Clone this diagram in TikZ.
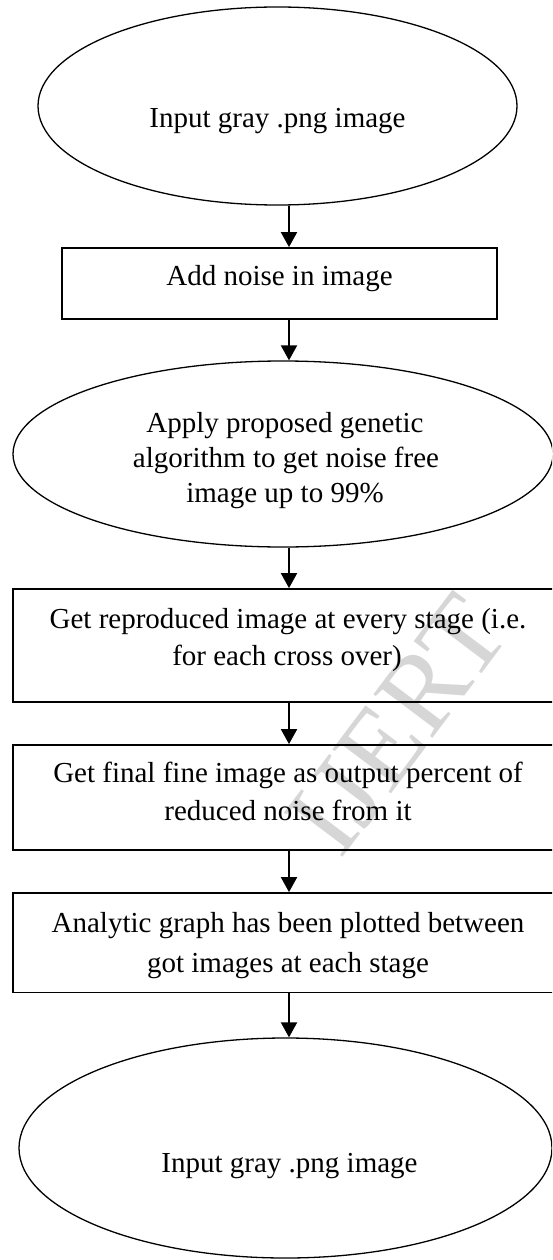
\documentclass[tikz,border=0pt]{standalone}
\usepackage{fontspec}
\setmainfont{Liberation Serif}
\usetikzlibrary{shapes.geometric,arrows.meta}
\begin{document}
\begin{tikzpicture}[x=1pt,y=-1pt,
  ell/.style={draw, ellipse, line width=1.3pt, inner sep=0pt},
  box/.style={draw, rectangle, line width=1.8pt, inner sep=0pt},
  txt/.style={anchor=base, inner sep=0pt, font=\fontsize{29}{36}\selectfont},
  arr/.style={line width=2pt, -{Triangle[width=16pt,length=15pt]}},
  wmark/.style={text=black!16, inner sep=0pt, font=\fontsize{112}{112}\selectfont}]
\useasboundingbox (0,0) rectangle (552,1260);
\clip (0,0) rectangle (552,1260);
\fill[white] (0,0) rectangle (552,1260);
% watermark
\node[wmark, rotate=53] (wm) at (398,725) {IJERT};
% shapes
\node[ell, minimum width=479pt, minimum height=198pt] (e1) at (277.5,106) {};
\node[box, minimum width=435pt, minimum height=71pt] (b1) at (279.5,283.5) {};
\node[ell, minimum width=540pt, minimum height=186pt] (e2) at (283,454) {};
\node[box, minimum width=550pt, minimum height=113pt] (b2) at (288,645.5) {};
\node[box, minimum width=550pt, minimum height=105pt] (b3) at (288,797.5) {};
\node[box, minimum width=550pt, minimum height=99.5pt] (b4) at (288,942.75) {};
\node[ell, minimum width=533pt, minimum height=220pt] (e3) at (285.5,1148) {};
% texts
\node[txt] (t1) at (277.5,128) {Input gray .png image};
\node[txt] (t2) at (279.5,285) {Add noise in image};
\node[txt] (t3a) at (285,432) {Apply proposed genetic};
\node[txt] (t3b) at (286,467) {algorithm to get noise free};
\node[txt] (t3c) at (285,502) {image up to 99\%};
\node[txt] (t4a) at (288,628) {Get reproduced image at every stage (i.e.};
\node[txt] (t4b) at (287,665) {for each cross over)};
\node[txt] (t5a) at (288,782) {Get final fine image as output percent of};
\node[txt] (t5b) at (288,820) {reduced noise from it};
\node[txt] (t6a) at (288,932) {Analytic graph has been plotted between};
\node[txt] (t6b) at (288,972) {got images at each stage};
\node[txt] (t7) at (289.5,1172) {Input gray .png image};
% connectors
\coordinate (ax) at (289,0);
\draw[arr] (e1.south -| ax) -- (b1.north -| ax);
\draw[arr] (b1.south -| ax) -- (e2.north -| ax);
\draw[arr] (e2.south -| ax) -- (b2.north -| ax);
\draw[arr] (b2.south -| ax) -- (b3.north -| ax);
\draw[arr] (b3.south -| ax) -- (b4.north -| ax);
\draw[arr] (b4.south -| ax) -- (e3.north -| ax);
\end{tikzpicture}
\end{document}
